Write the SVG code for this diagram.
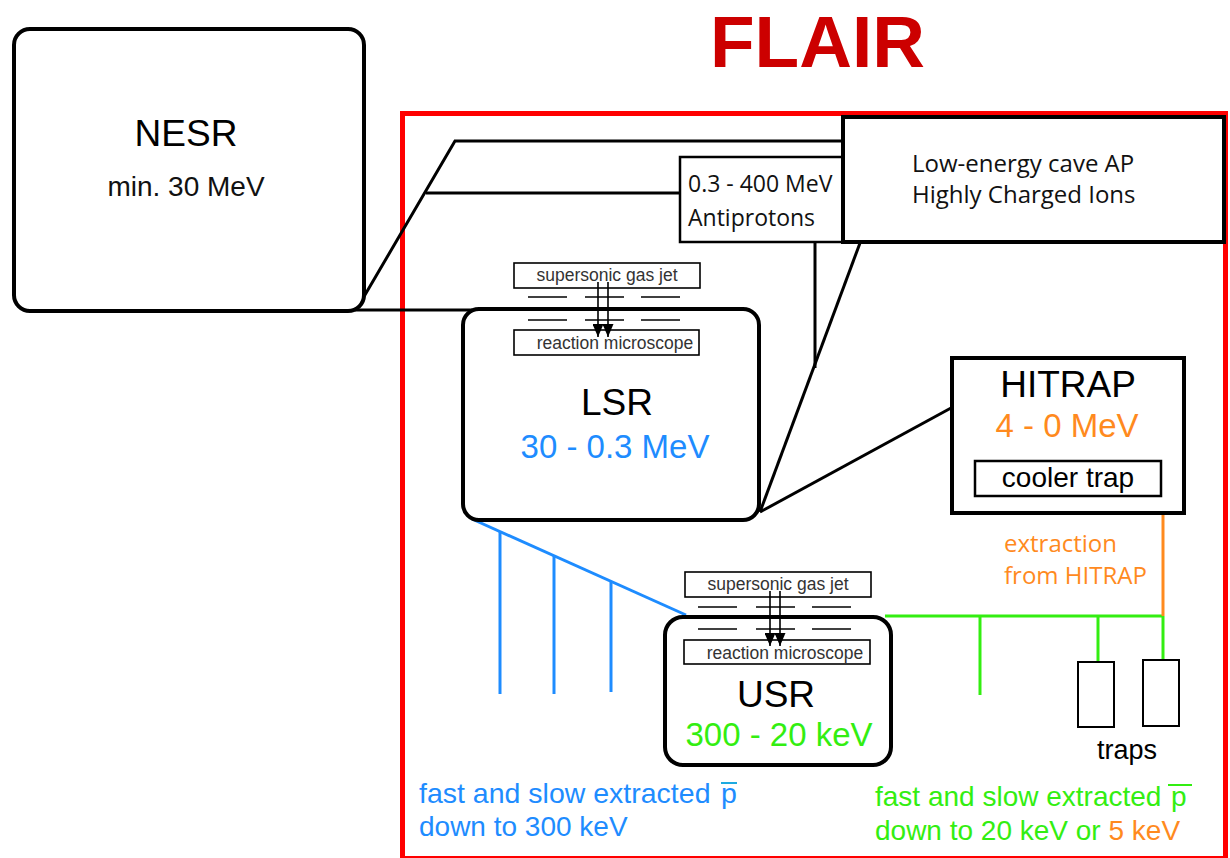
<svg xmlns="http://www.w3.org/2000/svg" width="1230" height="858" viewBox="0 0 1230 858">
<defs>
<marker id="ah" viewBox="0 0 13 11" refX="13" refY="5.5" markerWidth="13" markerHeight="11" markerUnits="userSpaceOnUse" orient="auto">
<path d="M0,0 L13,5.5 L0,11 Z" fill="#000"/>
</marker>
</defs>
<style>
.sans{font-family:"Liberation Sans",Arial,sans-serif}
.my{font-family:"Open Sans","Noto Sans",sans-serif}
.box{fill:#fff;stroke:#000}
.ln{fill:none;stroke:#000;stroke-width:3}
.blue{stroke:#1e8cff;stroke-width:3;fill:none}
.green{stroke:#33ee11;stroke-width:3;fill:none}
.orange{stroke:#ff8a1e;stroke-width:3;fill:none}
.dash{stroke:#000;stroke-width:1.6}
.arr{stroke:#000;stroke-width:1.6;marker-end:url(#ah)}
.small{font-size:17.5px;fill:#333}
</style>
<rect width="1230" height="858" fill="#fff"/>
<text class="sans" x="710" y="67" font-size="73" font-weight="bold" fill="#cc0000">FLAIR</text>
<rect id="flair-frame" x="402.5" y="113.5" width="823" height="745" fill="none" stroke="#ff0000" stroke-width="5"/>

<g id="connectors">
<polyline class="ln" points="362,300 455,141 845,141"/>
<line class="ln" x1="426" y1="193" x2="682" y2="193"/>
<line class="ln" x1="355" y1="310" x2="472" y2="310"/>
<line class="ln" x1="815" y1="242" x2="815" y2="368"/>
<line class="ln" x1="860" y1="243" x2="760" y2="512"/>
<line class="ln" x1="951" y1="408" x2="760" y2="512"/>
<line class="blue" x1="472" y1="519" x2="686" y2="615"/>
<line class="blue" x1="500" y1="532" x2="500" y2="694"/>
<line class="blue" x1="554" y1="556" x2="554" y2="694"/>
<line class="blue" x1="611" y1="581" x2="611" y2="692"/>
<line class="green" x1="885" y1="616" x2="1164" y2="616"/>
<line class="green" x1="980" y1="616" x2="980" y2="695"/>
<line class="green" x1="1098" y1="616" x2="1098" y2="663"/>
<line class="green" x1="1163" y1="616" x2="1163" y2="661"/>
<line class="orange" x1="1163" y1="515" x2="1163" y2="616"/>
</g>

<g id="nesr">
<rect class="box" x="14" y="29" width="350" height="282" rx="16" stroke-width="4"/>
<text class="sans" x="186" y="146" font-size="37" text-anchor="middle">NESR</text>
<text class="sans" x="186" y="196" font-size="28" text-anchor="middle" fill="#111">min. 30 MeV</text>
</g>

<g id="antiprotons">
<rect class="box" x="680" y="157" width="170" height="85" stroke-width="2.5"/>
<text class="my" x="688" y="192" font-size="23" fill="#111">0.3 - 400 MeV</text>
<text class="my" x="688" y="226" font-size="23" fill="#111">Antiprotons</text>
</g>

<g id="cave">
<rect class="box" x="843" y="117" width="381" height="125" stroke-width="4"/>
<text class="my" x="912" y="172" font-size="24" fill="#111">Low-energy cave AP</text>
<text class="my" x="912" y="203" font-size="24" fill="#111">Highly Charged Ions</text>
</g>

<g id="lsr">
<rect class="box" x="463" y="309" width="296" height="211" rx="16" stroke-width="4"/>
<text class="sans" x="617" y="415" font-size="37" text-anchor="middle">LSR</text>
<text class="sans" x="615" y="458" font-size="33" text-anchor="middle" fill="#1e8cff">30 - 0.3 MeV</text>
</g>

<g id="lsr-jet">
<rect class="box" x="514" y="263" width="186" height="25" stroke-width="1.6"/>
<text class="sans small" x="607" y="281" text-anchor="middle">supersonic gas jet</text>
<line class="dash" x1="528" y1="297" x2="567" y2="297"/>
<line class="dash" x1="585" y1="297" x2="624" y2="297"/>
<line class="dash" x1="641" y1="297" x2="680" y2="297"/>
<line class="dash" x1="528" y1="320" x2="567" y2="320"/>
<line class="dash" x1="585" y1="320" x2="624" y2="320"/>
<line class="dash" x1="641" y1="320" x2="680" y2="320"/>
<rect class="box" x="514" y="330" width="185" height="25" stroke-width="1.6"/>
<text class="sans small" x="615" y="349" text-anchor="middle">reaction microscope</text>
<line class="arr" x1="598" y1="282" x2="598" y2="337"/>
<line class="arr" x1="608" y1="282" x2="608" y2="337"/>
</g>

<g id="hitrap">
<rect class="box" x="952" y="358" width="232" height="155" stroke-width="4"/>
<text class="sans" x="1068" y="397" font-size="37" text-anchor="middle">HITRAP</text>
<text class="sans" x="1067" y="437" font-size="33" text-anchor="middle" fill="#ff8a1e">4 - 0 MeV</text>
<rect class="box" x="975" y="461" width="186" height="35" stroke-width="2.5"/>
<text class="sans" x="1068" y="487" font-size="28" text-anchor="middle">cooler trap</text>
</g>

<g id="usr">
<rect class="box" x="665" y="617" width="226" height="148" rx="18" stroke-width="4"/>
<text class="sans" x="776" y="707" font-size="37" text-anchor="middle">USR</text>
<text class="sans" x="779" y="746" font-size="33" text-anchor="middle" fill="#33ee11">300 - 20 keV</text>
</g>

<g id="usr-jet">
<rect class="box" x="685" y="572" width="186" height="25" stroke-width="1.6"/>
<text class="sans small" x="778" y="590" text-anchor="middle">supersonic gas jet</text>
<line class="dash" x1="698" y1="607" x2="737" y2="607"/>
<line class="dash" x1="756" y1="607" x2="795" y2="607"/>
<line class="dash" x1="812" y1="607" x2="851" y2="607"/>
<line class="dash" x1="698" y1="629" x2="737" y2="629"/>
<line class="dash" x1="756" y1="629" x2="795" y2="629"/>
<line class="dash" x1="812" y1="629" x2="851" y2="629"/>
<rect class="box" x="684" y="640" width="186" height="24" stroke-width="1.6"/>
<text class="sans small" x="785" y="659" text-anchor="middle">reaction microscope</text>
<line class="arr" x1="770" y1="591" x2="770" y2="646"/>
<line class="arr" x1="780" y1="591" x2="780" y2="646"/>
</g>

<g id="traps">
<rect class="box" x="1078" y="662" width="36" height="65" stroke-width="2"/>
<rect class="box" x="1143" y="660" width="36" height="66" stroke-width="2"/>
<text class="sans" x="1127" y="759" font-size="27" text-anchor="middle">traps</text>
</g>

<g id="extraction-label">
<text class="my" x="1004" y="552" font-size="24" fill="#ff8a1e">extraction</text>
<text class="my" x="1004" y="584" font-size="24" fill="#ff8a1e">from HITRAP</text>
</g>

<g id="blue-label">
<text class="sans" x="419" y="803" font-size="28.5" fill="#1e8cff">fast and slow extracted <tspan x="721">p</tspan></text>
<line x1="721" y1="783" x2="737" y2="783" stroke="#1eaae0" stroke-width="2"/>
<text class="sans" x="419" y="836" font-size="28" fill="#1e8cff">down to 300 keV</text>
</g>

<g id="green-label">
<text class="sans" x="875" y="806" font-size="28" fill="#33ee11">fast and slow extracted <tspan x="1171">p</tspan></text>
<line x1="1168" y1="785" x2="1192" y2="785" stroke="#33ee11" stroke-width="2"/>
<text class="sans" x="875" y="840" font-size="28" fill="#33ee11">down to 20 keV or <tspan fill="#ff8a1e">5 keV</tspan></text>
</g>
</svg>
